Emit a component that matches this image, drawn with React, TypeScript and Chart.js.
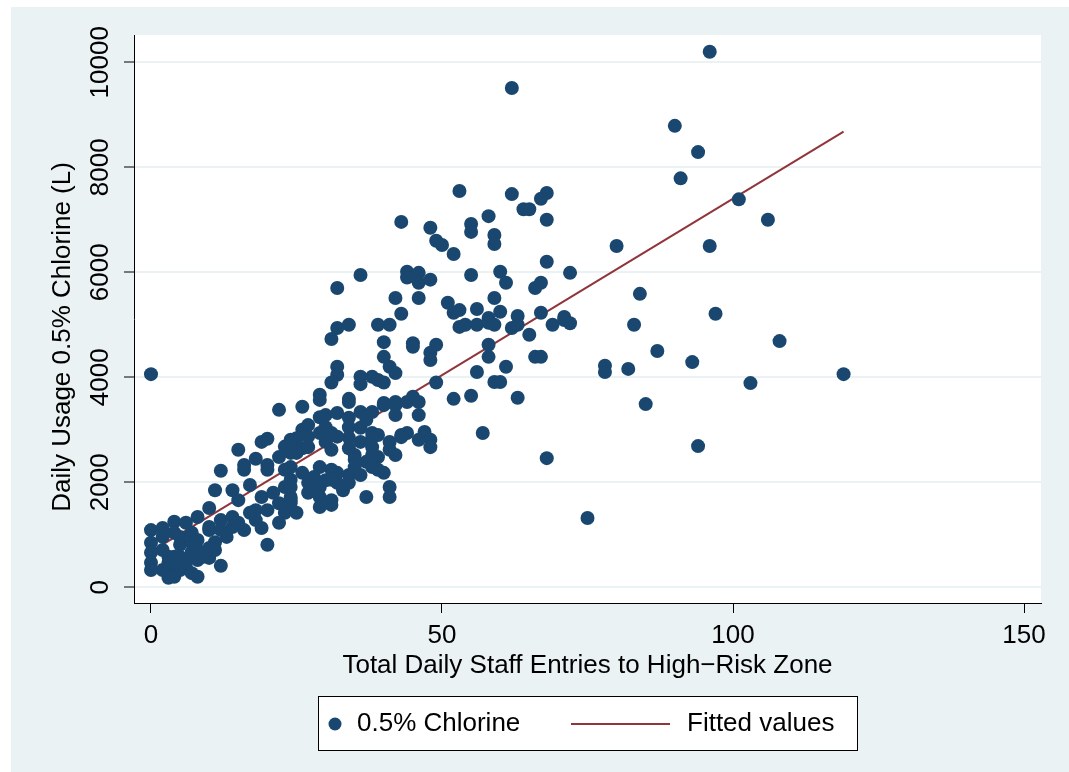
import React, { useEffect, useRef } from "react";
import { Chart, registerables } from "chart.js";

Chart.register(...registerables);

// ---- data ----
const xTicks = [0, 50, 100, 150];
const yTicks = [0, 2000, 4000, 6000, 8000, 10000];
const xTitle = "Total Daily Staff Entries to High\u2212Risk Zone";
const yTitle = "Daily Usage 0.5% Chlorine (L)";
const scatterLabel = "0.5% Chlorine";
const fitLabel = "Fitted values";

const fitEntries = [0, 119];
const fitUsage = [680, 8680];

const lowCluster: [number, number][] = [
  [22, 3380], [15, 2620], [19, 2770], [20, 2830], [12, 2220], [16, 2330], [18, 2450], [20, 2330],
  [22, 2480], [23, 2680], [24, 2810], [16, 2240], [20, 2240], [11, 1850], [14, 1850], [17, 1950],
  [15, 1660], [19, 1720], [21, 1800], [23, 1910], [24, 2050], [22, 1600], [24, 1600], [23, 1420],
  [10, 1510], [8, 1340], [12, 1280], [14, 1340], [18, 1280], [19, 1130], [16, 1090], [15, 1230],
  [10, 1090], [13, 960], [11, 860], [10, 750], [8, 900], [9, 580], [10, 560], [7, 670],
  [5, 810], [4, 580], [3, 580], [2, 710], [3, 390], [5, 330], [6, 390], [8, 520],
  [7, 270], [4, 200], [3, 180], [8, 200], [2, 330], [0, 850], [0, 660], [0, 470],
  [0, 330], [12, 410], [20, 810], [4, 1250], [6, 1230], [2, 1130], [0, 1090], [2, 960],
  [4, 1040], [5, 960], [7, 1040], [10, 1150], [5, 580], [4, 470], [6, 520], [3, 470],
  [7, 850], [8, 710], [11, 710], [12, 1090], [14, 1150], [18, 1470], [17, 1420], [20, 1470],
  [22, 1230], [24, 1720], [25, 1420], [26, 3000], [23, 2240], [25, 2560],
];

const midCluster: [number, number][] = [
  [36, 5950], [32, 5700], [44, 6010], [46, 5990], [44, 5900], [46, 5800], [48, 5860], [42, 5510],
  [46, 5510], [43, 5210], [34, 5000], [32, 4940], [39, 5000], [41, 5000], [31, 4730], [40, 4670],
  [45, 4650], [45, 4580], [49, 4620], [48, 4470], [48, 4330], [40, 4390], [41, 4200], [42, 4080],
  [32, 4200], [32, 4050], [31, 3900], [36, 4010], [36, 3870], [38, 4010], [39, 3950], [40, 3900],
  [49, 3900], [29, 3670], [34, 3590], [26, 3440], [43, 6960], [40, 3510], [42, 3530], [45, 3630],
  [29, 3570], [34, 3530], [36, 3340], [38, 3340], [40, 3470], [42, 3470], [44, 3530], [46, 3530],
  [46, 3280], [42, 3280], [30, 3280], [29, 3240], [32, 3320], [34, 3230], [27, 3090], [30, 3050],
  [34, 3050], [36, 3040], [37, 3190], [38, 2940], [39, 2900], [36, 2770], [34, 2850], [32, 2870],
  [31, 2940], [29, 2940], [27, 2870], [25, 2840], [24, 2750], [26, 2650], [27, 2670], [30, 2770],
  [31, 2620], [34, 2650], [35, 2520], [38, 2850], [38, 2670], [41, 2770], [43, 2900], [44, 2940],
  [47, 2960], [48, 2810], [48, 2670], [46, 2810], [42, 2520], [41, 2620], [39, 2480], [38, 2520],
  [37, 2390], [35, 2430], [35, 2290], [38, 2290], [34, 2140], [36, 2140], [32, 2180], [31, 2240],
  [29, 2290], [28, 2100], [26, 2180], [24, 2290], [24, 2560], [27, 1990], [29, 1910], [30, 2040],
  [27, 1800], [29, 1720], [32, 1990], [34, 1990], [33, 1850], [31, 1660], [29, 1530], [31, 1570],
  [24, 1910], [24, 1660], [37, 1720], [40, 2180], [41, 1910], [41, 1720], [39, 2240], [43, 2860],
  [31, 2050],
];

const upperCluster: [number, number][] = [
  [53, 7550], [62, 7490], [68, 7510], [67, 7400], [64, 7200], [65, 7200], [58, 7070], [55, 6920],
  [55, 6770], [68, 7000], [59, 6710], [59, 6540], [52, 6350], [48, 6850], [49, 6600], [50, 6520],
  [68, 6200], [55, 5950], [60, 6010], [61, 5800], [67, 5800], [66, 5700], [72, 5990], [51, 5420],
  [53, 5280], [56, 5300], [59, 5510], [60, 5250], [63, 5170], [67, 5230], [71, 5150], [58, 5130],
  [72, 5030], [52, 5230], [53, 4960], [54, 5000], [56, 5000], [58, 5040], [59, 5000], [62, 4940],
  [63, 5000], [69, 5000], [71, 5090], [65, 4810], [58, 4620], [58, 4390], [66, 4390], [67, 4390],
  [61, 4200], [56, 4100], [59, 3910], [60, 3910], [52, 3590], [55, 3650], [63, 3610],
];

const outliers: [number, number][] = [
  [0, 4060], [96, 10200], [62, 9510], [90, 8790], [94, 8290], [91, 7790], [101, 7390], [106, 7000],
  [96, 6500], [80, 6500], [84, 5590], [97, 5210], [83, 5000], [87, 4500], [93, 4290], [108, 4690],
  [78, 4220], [78, 4100], [82, 4160], [103, 3890], [119, 4060], [85, 3490], [94, 2690], [75, 1320],
  [68, 2460], [57, 2940],
];

// ---- style ----
const NAVY = "#1a476f";
const MAROON = "#90353b";
const BG = "#eaf2f3";
const FONT = '26px "Liberation Sans", Arial, sans-serif';
const CANVAS_W = 1058;
const CANVAS_H = 765;

const stataPlugin = {
  id: "stataDecor",
  beforeDraw(chart: any) {
    const { ctx, chartArea } = chart;
    ctx.save();
    ctx.fillStyle = BG;
    ctx.fillRect(0, 0, chart.width, chart.height);
    ctx.fillStyle = "#ffffff";
    ctx.fillRect(chartArea.left, chartArea.top, chartArea.right - chartArea.left, chartArea.bottom - chartArea.top);
    ctx.restore();
  },
  afterDraw(chart: any) {
    const { ctx, chartArea } = chart;
    const xs = chart.scales.x;
    const ys = chart.scales.y;
    ctx.save();
    ctx.fillStyle = "#000";
    ctx.font = FONT;
    ctx.textAlign = "center";
    ctx.textBaseline = "alphabetic";
    xTicks.forEach((v) => ctx.fillText(String(v), xs.getPixelForValue(v), chartArea.bottom + 40));
    yTicks.forEach((v) => {
      ctx.save();
      ctx.translate(chartArea.left - 26, ys.getPixelForValue(v));
      ctx.rotate(-Math.PI / 2);
      ctx.fillText(String(v), 0, 0);
      ctx.restore();
    });
    ctx.fillText(xTitle, (chartArea.left + chartArea.right) / 2, chartArea.bottom + 70);
    ctx.save();
    ctx.translate(chartArea.left - 64, 330);
    ctx.rotate(-Math.PI / 2);
    ctx.fillText(yTitle, 0, 0);
    ctx.restore();

    // legend
    const bx = 307, by = 689, bw = 539, bh = 54;
    ctx.fillStyle = "#fff";
    ctx.fillRect(bx, by, bw, bh);
    ctx.strokeStyle = "#000";
    ctx.lineWidth = 1;
    ctx.strokeRect(bx + 0.5, by + 0.5, bw, bh);
    const cy = by + 28;
    ctx.fillStyle = NAVY;
    ctx.beginPath();
    ctx.arc(bx + 17, cy, 6.5, 0, Math.PI * 2);
    ctx.fill();
    ctx.fillStyle = "#000";
    ctx.textAlign = "left";
    ctx.textBaseline = "middle";
    ctx.fillText(scatterLabel, bx + 39, cy);
    ctx.strokeStyle = MAROON;
    ctx.lineWidth = 2;
    ctx.beginPath();
    ctx.moveTo(bx + 253, cy);
    ctx.lineTo(bx + 352, cy);
    ctx.stroke();
    ctx.fillText(fitLabel, bx + 369, cy);
    ctx.restore();
  },
};

export default function App() {
  const ref = useRef<HTMLCanvasElement | null>(null);
  useEffect(() => {
    if (!ref.current) return;
    const points = [...lowCluster, ...midCluster, ...upperCluster, ...outliers].map(([x, y]) => ({ x, y }));
    const fit = fitEntries.map((x, i) => ({ x, y: fitUsage[i] }));
    const chart = new Chart(ref.current, {
      type: "scatter",
      data: {
        datasets: [
          {
            label: scatterLabel,
            data: points,
            backgroundColor: NAVY,
            borderWidth: 0,
            pointRadius: 7,
            pointHoverRadius: 7,
          },
          {
            type: "line",
            label: fitLabel,
            data: fit,
            borderColor: MAROON,
            borderWidth: 2,
            pointRadius: 0,
            fill: false,
          } as any,
        ],
      },
      options: {
        responsive: false,
        animation: false,
        devicePixelRatio: 1,
        layout: { padding: { left: 0, top: 28, right: 28, bottom: 0 } },
        plugins: { legend: { display: false }, tooltip: { enabled: false } },
        scales: {
          x: {
            type: "linear",
            min: -2.92,
            max: 152.92,
            afterBuildTicks: (s: any) => { s.ticks = xTicks.map((v) => ({ value: v })); },
            afterFit: (s: any) => { s.height = CANVAS_H - 596; },
            ticks: { display: false },
            grid: { drawOnChartArea: false, drawTicks: true, tickLength: 10, tickColor: "#000", tickWidth: 1 },
            border: { display: true, color: "#000", width: 1 },
          },
          y: {
            type: "linear",
            min: -299,
            max: 10520,
            afterBuildTicks: (s: any) => { s.ticks = yTicks.map((v) => ({ value: v })); },
            afterFit: (s: any) => { s.width = 123; },
            ticks: { display: false },
            grid: { drawOnChartArea: true, color: BG, lineWidth: 2, drawTicks: true, tickLength: 10, tickColor: "#000", tickWidth: 1 },
            border: { display: true, color: "#000", width: 1 },
          },
        },
      },
      plugins: [stataPlugin],
    });
    return () => chart.destroy();
  }, []);
  return (
    <div style={{ position: "absolute", left: 11, top: 7 }}>
      <canvas ref={ref} width={CANVAS_W} height={CANVAS_H} style={{ display: "block" }} />
    </div>
  );
}
